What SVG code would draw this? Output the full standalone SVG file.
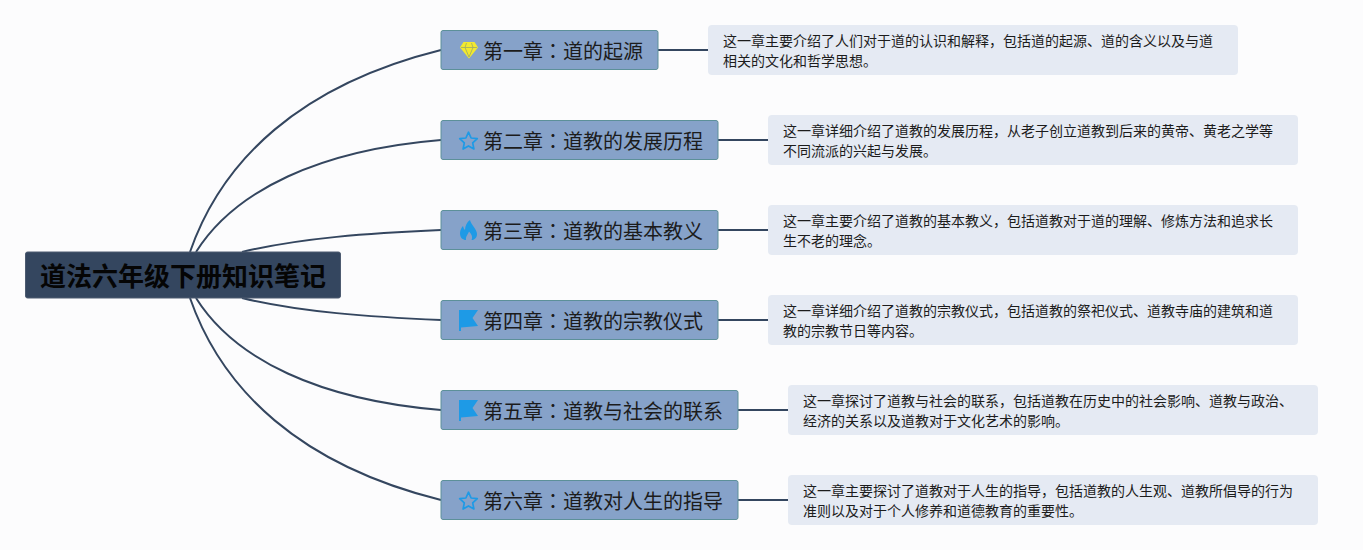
<svg xmlns="http://www.w3.org/2000/svg" width="1363" height="550" viewBox="0 0 1363 550">
<style>
text{font-family:"Liberation Sans","Noto Sans CJK SC",sans-serif}
.c{fill:none;stroke:#34465f;stroke-width:2}
.b{fill:#86a2c9;stroke:#5c9099;stroke-width:1}
.t{font-size:20px;fill:#1c1c1c}
.t tspan{font-family:"Noto Sans CJK TC",sans-serif}
.d{fill:#e5eaf3}
.n{font-size:14px;fill:#1c1c1c}
.blue{fill:#1e9ae6}
.st{fill:none;stroke:#1e9ae6;stroke-width:1.7;stroke-linejoin:round}
</style>
<defs>
<path id="star" d="M0-8.800 2.600-3 8.800-2.300 4.200 1.900 5.400 8 0 4.900-5.400 8-4.200 1.900-8.800-2.300-2.600-3Z"/>
<path id="flag" d="M-9.500-10H9.500L4-2 9.500 6-7.500 7.500V11H-9.500Z"/>
</defs>
<rect width="1363" height="550" fill="#fcfcfd"/>
<g id="connectors">
<path class="c" d="M190 252C222 160 300 85 441 50"/>
<path class="c" d="M196 252C235 190 320 150 441 140"/>
<path class="c" d="M242 252C300 238 370 233 441 230"/>
<path class="c" d="M242 298C300 312 370 317 441 320"/>
<path class="c" d="M196 298C235 360 320 400 441 410"/>
<path class="c" d="M190 298C222 390 300 465 441 500"/>
<path class="c" d="M658 50H708"/>
<path class="c" d="M718 140H768"/>
<path class="c" d="M718 230H768"/>
<path class="c" d="M718 320H768"/>
<path class="c" d="M738 410H788"/>
<path class="c" d="M738 500H788"/>
</g>
<g id="root">
<rect x="25.500" y="252" width="315" height="46" rx="2" fill="#34465f" stroke="#4d5b70"/>
<text x="183" y="286" text-anchor="middle" font-size="26" font-weight="700" fill="#050505">道法六年级下册知识笔记</text>
</g>
<g id="ch1">
<rect class="d" x="708" y="25" width="530" height="50" rx="4"/>
<text class="n" x="723" y="46">这一章主要介绍了人们对于道的认识和解释，包括道的起源、道的含义以及与道</text>
<text class="n" x="723" y="66">相关的文化和哲学思想。</text>
<rect class="b" x="441" y="30.500" width="217" height="39" rx="2"/>
<path d="M463.500 42H474.500L478 47.500 469 58.500 460 47.500Z" fill="#f2e92e"/>
<path d="M461 47.500H477M465 47.500 469 57 473 47.500M466.500 43 465 47.500M471.500 43 473 47.500" stroke="#9aa86a" stroke-width=".8" fill="none"/>
<text class="t" x="483" y="58.500">第一章<tspan>：</tspan>道的起源</text>
</g>
<g id="ch2">
<rect class="d" x="768" y="115" width="530" height="50" rx="4"/>
<text class="n" x="783" y="136">这一章详细介绍了道教的发展历程，从老子创立道教到后来的黄帝、黄老之学等</text>
<text class="n" x="783" y="156">不同流派的兴起与发展。</text>
<rect class="b" x="441" y="120.500" width="277" height="39" rx="2"/>
<use href="#star" class="st" x="468.500" y="141"/>
<text class="t" x="483" y="148.500">第二章<tspan>：</tspan>道教的发展历程</text>
</g>
<g id="ch3">
<rect class="d" x="768" y="205" width="530" height="50" rx="4"/>
<text class="n" x="783" y="226">这一章主要介绍了道教的基本教义，包括道教对于道的理解、修炼方法和追求长</text>
<text class="n" x="783" y="246">生不老的理念。</text>
<rect class="b" x="441" y="210.500" width="277" height="39" rx="2"/>
<path class="blue" d="M470 220C471 225 477 229 477 234 477 238 474 240 471.500 240 473 237 471.500 234 469 231.500 468 234.500 465.500 236.500 466 240 463 240 460 238 460 233 460 230 462 227 463 226 463.500 228 464 229 465 230 465 226 467 222 470 220Z"/>
<text class="t" x="483" y="238.500">第三章<tspan>：</tspan>道教的基本教义</text>
</g>
<g id="ch4">
<rect class="d" x="768" y="295" width="530" height="50" rx="4"/>
<text class="n" x="783" y="316">这一章详细介绍了道教的宗教仪式，包括道教的祭祀仪式、道教寺庙的建筑和道</text>
<text class="n" x="783" y="336">教的宗教节日等内容。</text>
<rect class="b" x="441" y="300.500" width="277" height="39" rx="2"/>
<use href="#flag" class="blue" x="468.500" y="320"/>
<text class="t" x="483" y="328.500">第四章<tspan>：</tspan>道教的宗教仪式</text>
</g>
<g id="ch5">
<rect class="d" x="788" y="385" width="530" height="50" rx="4"/>
<text class="n" x="803" y="406">这一章探讨了道教与社会的联系，包括道教在历史中的社会影响、道教与政治、</text>
<text class="n" x="803" y="426">经济的关系以及道教对于文化艺术的影响。</text>
<rect class="b" x="441" y="390.500" width="297" height="39" rx="2"/>
<use href="#flag" class="blue" x="468.500" y="410"/>
<text class="t" x="483" y="418.500">第五章<tspan>：</tspan>道教与社会的联系</text>
</g>
<g id="ch6">
<rect class="d" x="788" y="475" width="530" height="50" rx="4"/>
<text class="n" x="803" y="496">这一章主要探讨了道教对于人生的指导，包括道教的人生观、道教所倡导的行为</text>
<text class="n" x="803" y="516">准则以及对于个人修养和道德教育的重要性。</text>
<rect class="b" x="441" y="480.500" width="297" height="39" rx="2"/>
<use href="#star" class="st" x="468.500" y="501"/>
<text class="t" x="483" y="508.500">第六章<tspan>：</tspan>道教对人生的指导</text>
</g>
</svg>
